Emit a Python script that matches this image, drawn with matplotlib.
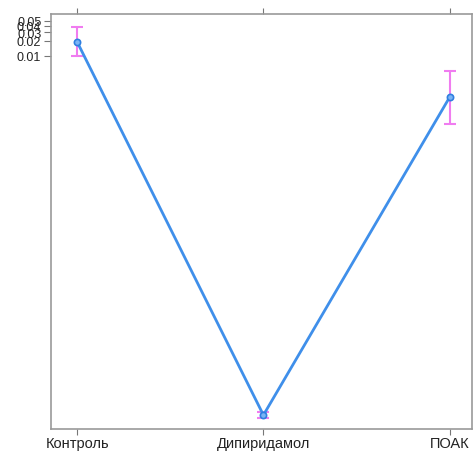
import numpy as np
import matplotlib.pyplot as plt

# группы и значения
groups = ["Контроль", "Дипиридамол", "ПОАК"]
means = [0.019, 6.6e-10, 0.0015]
lower = [0.0100, 5.8e-10, 0.00044]
upper = [0.038, 7.5e-10, 0.0050]
yticks = [0.01, 0.02, 0.03, 0.04, 0.05]

plt.rcParams['font.family'] = ['Liberation Sans', 'DejaVu Sans']

fig = plt.figure(figsize=(4.73, 4.52), dpi=100)
ax = fig.add_axes([0.108, 0.049, 0.89, 0.918])

x = np.arange(1, len(groups) + 1)
means = np.array(means)
err = [means - np.array(lower), np.array(upper) - means]

ax.errorbar(x, means, yerr=err, fmt="none", ecolor="#f07cf0",
            elinewidth=1.5, capsize=4.5, capthick=1.5, zorder=2)
ax.plot(x, means, color="#3f8fea", lw=2, zorder=3)
ax.plot(x, means, "o", ms=4.5, mfc="#7ab4f5", mec="#2f7fe0", mew=1.2, zorder=4)

ax.set_yscale("log")
ax.set_ylim(3.5e-10, 0.069)
ax.set_xlim(0.86, 3.12)

ax.set_yticks(yticks)
ax.set_yticklabels([f"{v:.2f}" for v in yticks])
ax.minorticks_off()
ax.set_xticks(x)
ax.set_xticklabels(groups)

ax.tick_params(axis="y", direction="out", length=5, color="#777777",
               labelsize=9, labelcolor="#222222", pad=2)
ax.tick_params(axis="x", direction="out", length=4, color="#777777",
               labelsize=10.5, labelcolor="#222222", pad=1, top=True)
for s in ax.spines.values():
    s.set_color("#999999")
    s.set_linewidth(1.2)

fig.savefig("out.png", dpi=100)
